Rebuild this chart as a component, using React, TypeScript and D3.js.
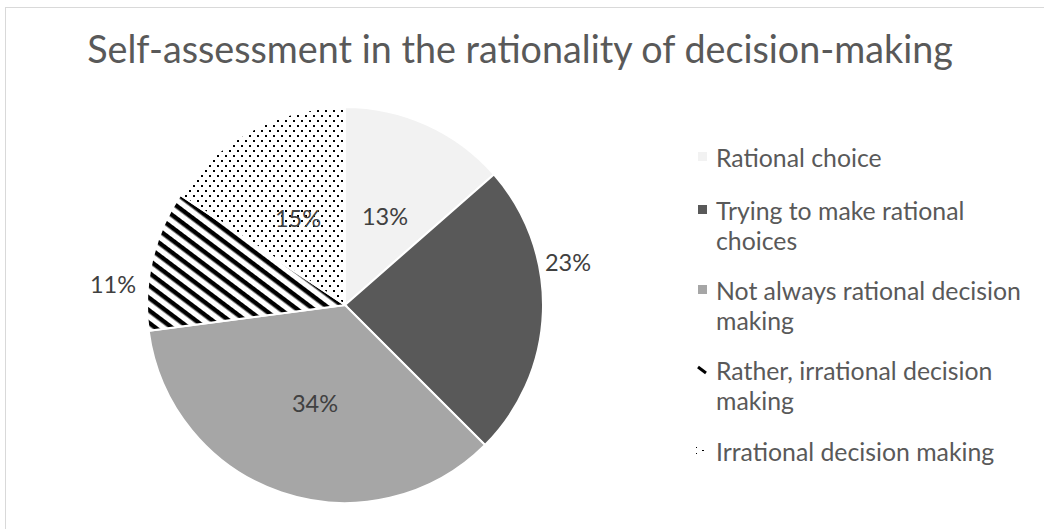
import React from "react";
import * as d3 from "d3";

const categories = [
  "Rational choice",
  "Trying to make rational choices",
  "Not always rational decision making",
  "Rather, irrational decision making",
  "Irrational decision making",
];
const values = [13, 23, 34, 11, 15];
const legendLines = [
  ["Rational choice"],
  ["Trying to make rational", "choices"],
  ["Not always rational decision", "making"],
  ["Rather, irrational decision", "making"],
  ["Irrational decision making"],
];
const fills = ["#f2f2f2", "#595959", "#a6a6a6", "url(#stripes)", "url(#dots)"];
const title = "Self-assessment in the rationality of decision-making";

const W = 1044;
const H = 529;
const cx = 345;
const cy = 305;
const R = 198;

const labelPos: [number, number][] = [
  [385, 216],
  [568, 262],
  [315, 403],
  [113, 284],
  [298, 218],
];

export default function App() {
  const pie = d3.pie<number>().sort(null).value((d) => d)(values);
  const arc = d3.arc<d3.PieArcDatum<number>>().innerRadius(0).outerRadius(R);
  const legendY = [157, 210, 290, 370, 451];
  const font = "Lato, sans-serif";

  return (
    <svg
      width={W}
      height={H}
      style={{ position: "absolute", left: 0, top: 0, display: "block", fontFamily: font }}
    >
      <defs>
        <pattern id="dots" width={8} height={10} patternUnits="userSpaceOnUse">
          <rect width={8} height={10} fill="#fff" />
          <rect x={0} y={0} width={2} height={2} fill="#000" />
          <rect x={4} y={5} width={2} height={2} fill="#000" />
        </pattern>
        <pattern
          id="stripes"
          width={10}
          height={10}
          patternUnits="userSpaceOnUse"
          patternTransform="rotate(37)"
        >
          <rect width={10} height={10} fill="#fff" />
          <rect x={0} y={0} width={10} height={4.5} fill="#000" />
        </pattern>
      </defs>
      <rect x={0} y={0} width={W} height={H} fill="#fff" />
      <rect x={5.5} y={7.5} width={W + 10} height={H + 10} fill="none" stroke="#d9d9d9" strokeWidth={1} />
      <text
        x={520}
        y={48}
        textAnchor="middle"
        dominantBaseline="central"
        fontSize={37.7}
        fill="#595959"
      >
        {title}
      </text>
      <g transform={`translate(${cx},${cy})`}>
        {pie.map((p, i) => (
          <path key={categories[i]} d={arc(p) || ""} fill={fills[i]} stroke="#fff" strokeWidth={2} />
        ))}
      </g>
      {pie.map((p, i) => (
        <text
          key={"l" + i}
          x={labelPos[i][0]}
          y={labelPos[i][1]}
          textAnchor="middle"
          dominantBaseline="central"
          fontSize={23.5}
          fill="#404040"
        >
          {values[i]}%
        </text>
      ))}
      {legendLines.map((lines, i) => {
        const y = legendY[i];
        let marker;
        if (i < 3) {
          marker = <rect x={698} y={y - 5} width={9} height={9} fill={fills[i]} />;
        } else if (i === 3) {
          marker = <line x1={698} y1={y - 3} x2={706} y2={y + 3} stroke="#000" strokeWidth={3} />;
        } else {
          marker = (
            <g fill="#000">
              <rect x={696} y={y - 4} width={1} height={1} />
              <rect x={696} y={y + 2} width={1} height={1} />
              <rect x={702} y={y - 1} width={2} height={1} />
            </g>
          );
        }
        return (
          <g key={"lg" + i}>
            {marker}
            {lines.map((t, j) => (
              <text
                key={j}
                x={716}
                y={y + j * 30}
                dominantBaseline="central"
                fontSize={24.8}
                fill="#595959"
              >
                {t}
              </text>
            ))}
          </g>
        );
      })}
    </svg>
  );
}
